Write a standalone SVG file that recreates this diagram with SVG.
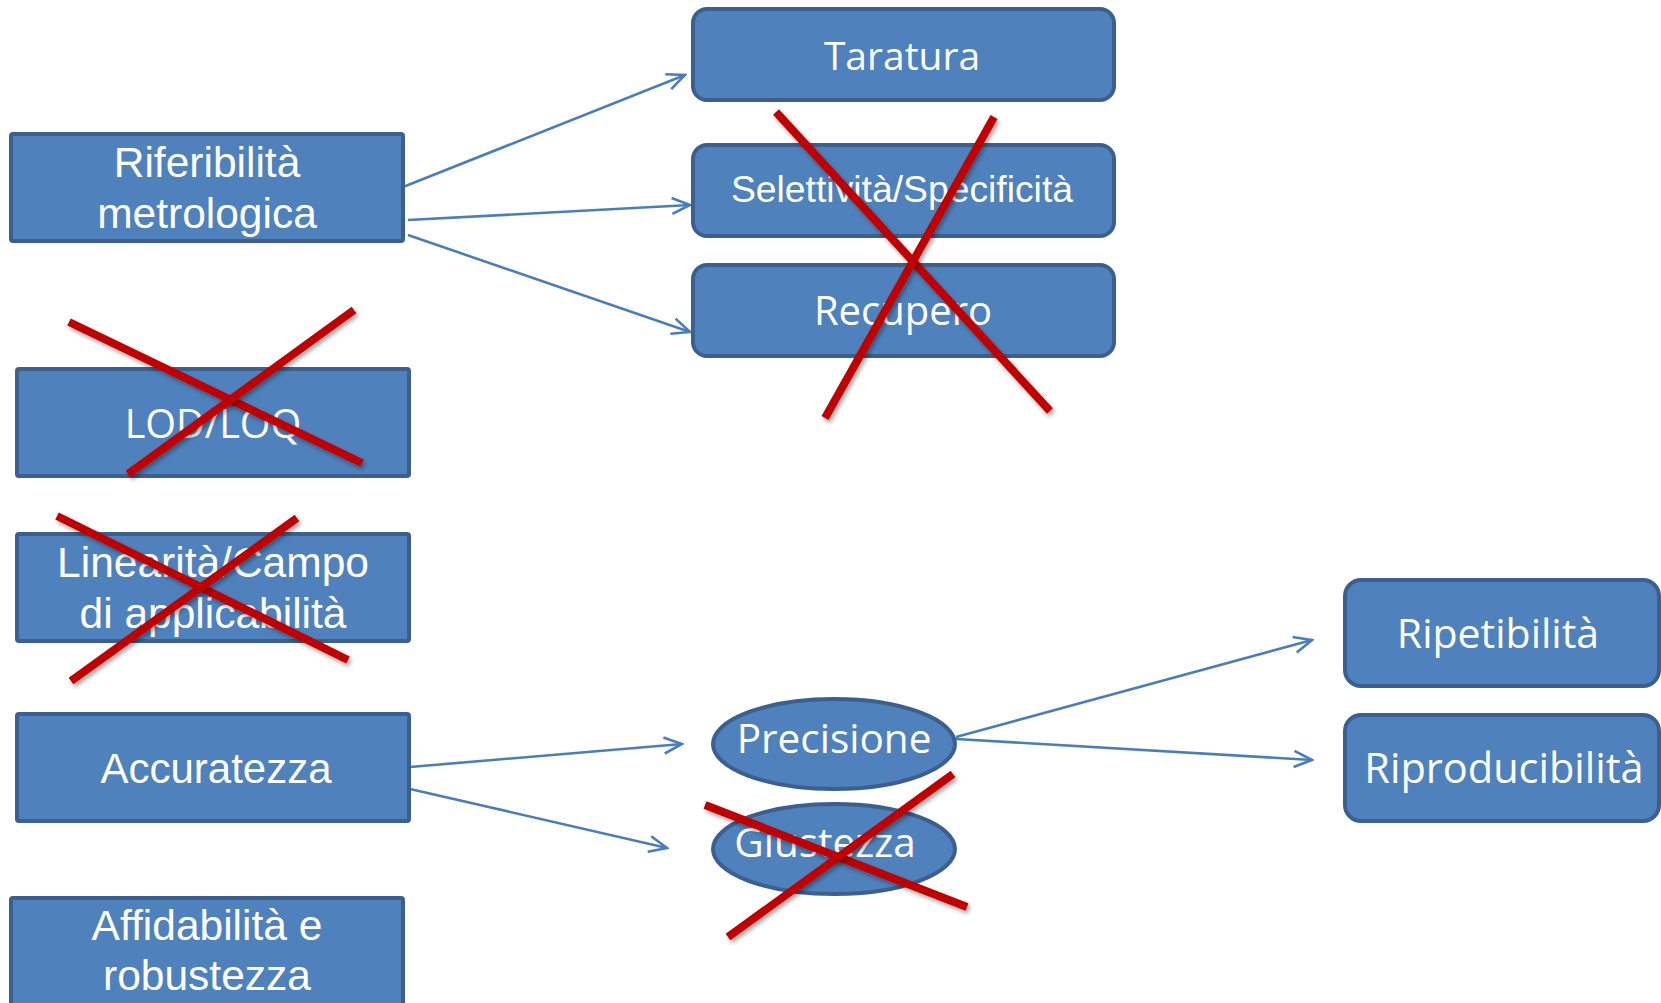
<svg xmlns="http://www.w3.org/2000/svg" width="1661" height="1003" viewBox="0 0 1661 1003">
<style>
.box{fill:#4f81bd;stroke:#3b5f8f;stroke-width:4}
.t{fill:#ffffff;text-anchor:middle}
.a{font-family:"Liberation Sans",Arial,sans-serif}
.c{font-family:"Open Sans","Noto Sans",sans-serif}
.conn{stroke:#4a7ebb;stroke-width:2.6;fill:none;marker-end:url(#arr)}
.x{stroke:#c00000;stroke-width:8;fill:none;filter:url(#sh)}
</style>
<defs>
<marker id="arr" viewBox="0 0 22 22" refX="20" refY="11" markerWidth="22" markerHeight="22" markerUnits="userSpaceOnUse" orient="auto">
<path d="M2,3 L20,11 L2,19" fill="none" stroke="#4a7ebb" stroke-width="2.6"/>
</marker>
<filter id="sh" x="-10%" y="-10%" width="130%" height="130%">
<feDropShadow dx="2" dy="3" stdDeviation="2" flood-color="#000" flood-opacity="0.35"/>
</filter>
</defs>
<g id="connectors">
<line class="conn" x1="403" y1="187" x2="685" y2="75"/>
<line class="conn" x1="408" y1="220" x2="690" y2="205"/>
<line class="conn" x1="408" y1="235" x2="690" y2="332"/>
<line class="conn" x1="410" y1="767" x2="682" y2="744"/>
<line class="conn" x1="410" y1="789" x2="667" y2="848"/>
<line class="conn" x1="956" y1="737" x2="1312" y2="640"/>
<line class="conn" x1="956" y1="739" x2="1312" y2="760"/>
</g>
<g id="riferibilita">
<rect class="box" x="11" y="134" width="392" height="107" rx="2"/>
<text class="t a" font-size="42.5" x="207" y="177">Riferibilità</text>
<text class="t a" font-size="42.5" x="207" y="228">metrologica</text>
</g>
<g id="lodloq">
<rect class="box" x="17" y="369" width="392" height="107" rx="2"/>
<text class="t c" font-size="39.5" x="213" y="438">LOD/LOQ</text>
</g>
<g id="linearita">
<rect class="box" x="17" y="534" width="392" height="107" rx="2"/>
<text class="t a" font-size="42.5" x="213" y="577">Linearità/Campo</text>
<text class="t a" font-size="42.5" x="213" y="628">di applicabilità</text>
</g>
<g id="accuratezza">
<rect class="box" x="17" y="714" width="392" height="107" rx="2"/>
<text class="t a" font-size="42" x="216" y="783">Accuratezza</text>
</g>
<g id="affidabilita">
<rect class="box" x="11" y="898" width="392" height="120" rx="2"/>
<text class="t a" font-size="42.5" x="207" y="940">Affidabilità e</text>
<text class="t a" font-size="42.5" x="207" y="990">robustezza</text>
</g>
<g id="taratura">
<rect class="box" x="693" y="9" width="421" height="91" rx="14"/>
<text class="t c" font-size="39" x="902" y="70">Taratura</text>
</g>
<g id="selettivita">
<rect class="box" x="693" y="145" width="421" height="91" rx="14"/>
<text class="t a" font-size="37.3" x="902" y="202">Selettività/Specificità</text>
</g>
<g id="recupero">
<rect class="box" x="693" y="265" width="421" height="91" rx="14"/>
<text class="t c" font-size="40" x="903" y="325">Recupero</text>
</g>
<g id="precisione">
<ellipse class="box" cx="834" cy="744" rx="121" ry="45"/>
<text class="t c" font-size="40.5" x="834" y="753">Precisione</text>
</g>
<g id="giustezza">
<ellipse class="box" cx="834" cy="849" rx="121" ry="45"/>
<text class="t c" font-size="40.5" x="825" y="857">Giustezza</text>
</g>
<g id="ripetibilita">
<rect class="box" x="1345" y="580" width="314" height="106" rx="16"/>
<text class="t c" font-size="41" x="1498" y="648">Ripetibilità</text>
</g>
<g id="riproducibilita">
<rect class="box" x="1345" y="715" width="314" height="106" rx="16"/>
<text class="t c" font-size="41.5" x="1504" y="783">Riproducibilità</text>
</g>
<g id="crosses">
<line class="x" x1="776" y1="112" x2="1050" y2="411"/>
<line class="x" x1="994" y1="117" x2="825" y2="418"/>
<line class="x" x1="69" y1="322" x2="362" y2="463"/>
<line class="x" x1="354" y1="310" x2="128" y2="474"/>
<line class="x" x1="57" y1="516" x2="348" y2="660"/>
<line class="x" x1="297" y1="518" x2="71" y2="681"/>
<line class="x" x1="705" y1="805" x2="967" y2="907"/>
<line class="x" x1="953" y1="774" x2="728" y2="937"/>
</g>
</svg>
